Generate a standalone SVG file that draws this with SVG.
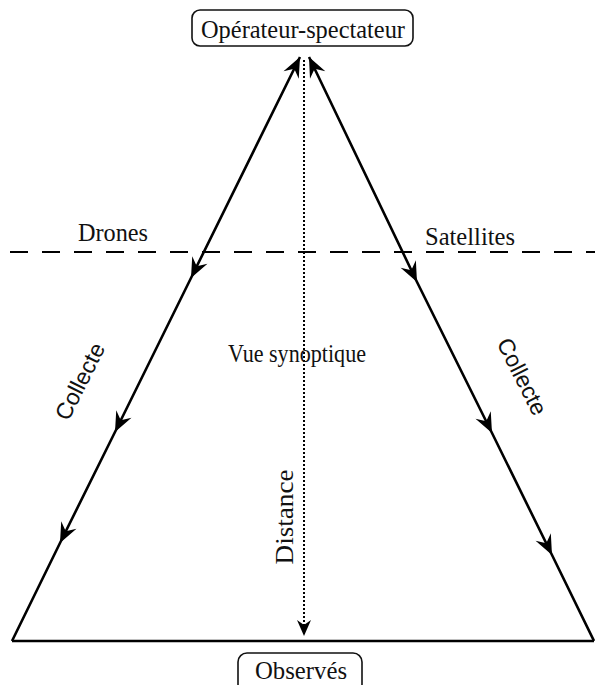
<svg xmlns="http://www.w3.org/2000/svg" width="595" height="685" viewBox="0 0 595 685">
<style>
.serif{font-family:"Liberation Serif","Times New Roman",serif;fill:#111}
.sans{font-family:"Liberation Sans",Arial,sans-serif;fill:#111}
.box{fill:#fff;stroke:#111;stroke-width:1.6}
.edge{fill:none;stroke:#000;stroke-width:2.6}
</style>
<defs>
<marker id="arr" viewBox="-22 -10 24 20" markerWidth="24" markerHeight="20" refX="0" refY="0" orient="auto-start-reverse" markerUnits="userSpaceOnUse">
<path d="M0,0 L-20,-8.5 L-13,0 L-20,8.5 Z" fill="#000"/>
</marker>
<marker id="arrs" viewBox="-18 -8 20 16" markerWidth="20" markerHeight="16" refX="0" refY="0" orient="auto" markerUnits="userSpaceOnUse">
<path d="M0,0 L-16,-7 L-11,0 L-16,7 Z" fill="#000"/>
</marker>
</defs>
<rect width="595" height="685" fill="#fff"/>
<g id="connectors">
<line x1="10" y1="252" x2="595" y2="252" stroke="#000" stroke-width="2" stroke-dasharray="18,14"/>
<path class="edge" d="M300,57 L191,278 L115,432 L60,543 L12,641" marker-start="url(#arr)" marker-mid="url(#arr)"/>
<path class="edge" d="M309,57 L417,282 L492,433 L552,555 L594,641" marker-start="url(#arr)" marker-mid="url(#arr)"/>
<line x1="12" y1="641" x2="594" y2="641" stroke="#000" stroke-width="2.6"/>
<line x1="304" y1="60" x2="304" y2="636" stroke="#000" stroke-width="2" stroke-dasharray="2,2" marker-end="url(#arrs)"/>
</g>
<g id="operateur">
<rect class="box" x="192" y="10" width="221" height="36" rx="8"/>
<text class="serif" x="303" y="38" font-size="26" text-anchor="middle" textLength="204" lengthAdjust="spacingAndGlyphs">Opérateur-spectateur</text>
</g>
<g id="observes">
<rect class="box" x="238" y="653" width="124" height="40" rx="9"/>
<text class="serif" x="301" y="679" font-size="25" text-anchor="middle" textLength="92" lengthAdjust="spacingAndGlyphs">Observés</text>
</g>
<g id="labels">
<text class="serif" x="113" y="241" font-size="25" text-anchor="middle" textLength="70" lengthAdjust="spacingAndGlyphs">Drones</text>
<text class="serif" x="470" y="245" font-size="25" text-anchor="middle" textLength="90" lengthAdjust="spacingAndGlyphs">Satellites</text>
<text class="serif" x="297" y="362" font-size="25" text-anchor="middle" textLength="138" lengthAdjust="spacingAndGlyphs">Vue synoptique</text>
<text class="serif" font-size="25" text-anchor="middle" textLength="95" lengthAdjust="spacingAndGlyphs" transform="translate(293,517) rotate(-90)">Distance</text>
<text class="sans" font-size="23" text-anchor="middle" transform="translate(87,385) rotate(-63.3)">Collecte</text>
<text class="sans" font-size="23" text-anchor="middle" transform="translate(515,380) rotate(63.3)">Collecte</text>
</g>
</svg>
